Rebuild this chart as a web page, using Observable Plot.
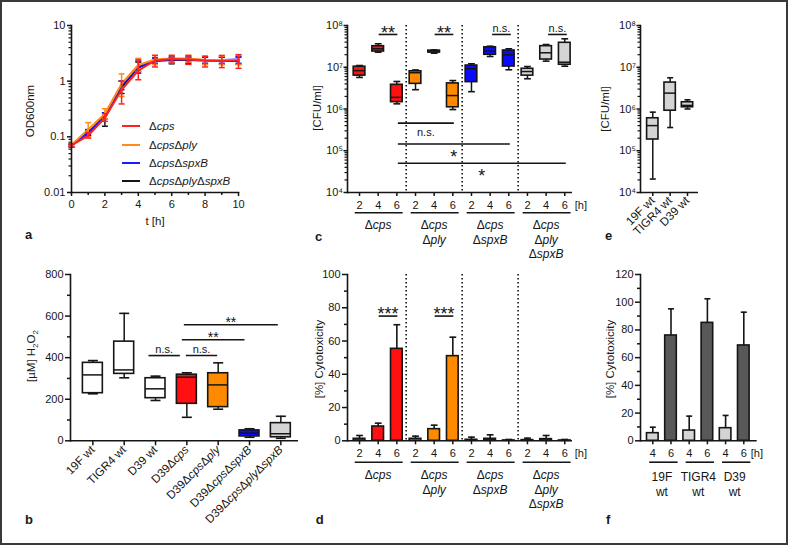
<!DOCTYPE html>
<html>
<head>
<meta charset="utf-8">
<script src="https://cdn.jsdelivr.net/npm/d3@7"></script>
<script src="https://cdn.jsdelivr.net/npm/@observablehq/plot@0.6"></script>
<style>
html,body{margin:0;padding:0;background:#fff;}
#fig{position:relative;width:788px;height:545px;overflow:hidden;background:#fff;font-family:"Liberation Sans",Arial,Helvetica,sans-serif;color:#1a1a1a;}
.panel{position:absolute;}
.panel svg{display:block;overflow:visible;}
.ylab{position:absolute;font-size:11.5px;line-height:1;white-space:nowrap;transform:translate(-50%,-50%) rotate(-90deg);}
.xlab{position:absolute;font-size:11.5px;line-height:1;white-space:nowrap;transform:translate(-50%,-50%);}
.letter{position:absolute;font-size:13px;font-weight:bold;line-height:13px;}
.legline{position:absolute;height:2px;width:18px;}
.legtext{position:absolute;font-size:11.5px;line-height:14px;white-space:nowrap;}
#border{position:absolute;left:0;top:0;width:788px;height:545px;box-sizing:border-box;border:2px solid #3a3a3a;pointer-events:none;}
</style>
</head>
<body>
<div id="fig"></div>
<script>
// ---------- DATA ----------
// (a) growth curves, OD600nm
const hours = [0,1,2,3,4,5,6,7,8,9,10];
const odCps      = [0.070,0.105,0.22,0.70,1.55,2.35,2.50,2.45,2.35,2.30,2.35];
const odCpsLo    = [0.066,0.095,0.19,0.39,1.06,1.80,2.10,2.00,1.80,1.75,1.70];
const odCpsHi    = [0.075,0.120,0.26,1.00,2.42,2.90,2.90,2.90,2.80,2.90,3.00];
const odPly      = [0.072,0.135,0.26,0.90,1.95,2.45,2.55,2.55,2.40,2.40,2.40];
const odPlyLo    = [0.068,0.100,0.21,0.53,1.50,2.00,2.20,2.20,2.00,2.00,2.00];
const odPlyHi    = [0.076,0.180,0.32,1.35,2.57,2.90,2.90,2.90,2.80,2.80,2.90];
const odSpx      = [0.070,0.120,0.24,0.85,1.80,2.35,2.45,2.45,2.40,2.40,2.45];
const odSpxLo    = [0.066,0.110,0.21,0.70,1.50,2.10,2.20,2.20,2.10,2.10,2.10];
const odSpxHi    = [0.074,0.130,0.27,1.00,2.30,2.60,2.70,2.70,2.70,2.70,2.80];
const odPlySpx   = [0.070,0.120,0.22,0.78,1.75,2.30,2.40,2.40,2.35,2.30,2.30];
const odPlySpxLo = [0.066,0.105,0.155,0.60,1.40,2.00,2.05,2.05,2.00,2.00,2.00];
const odPlySpxHi = [0.074,0.135,0.27,1.00,2.20,2.60,2.70,2.70,2.70,2.70,2.70];
const growthNames = ["Δcps","ΔcpsΔply","ΔcpsΔspxB","ΔcpsΔplyΔspxB"];

// (b) H2O2 box plots
const h2o2Strains = ["19F wt","TIGR4 wt","D39 wt","D39Δcps","D39ΔcpsΔply","D39ΔcpsΔspxB","D39ΔcpsΔplyΔspxB"];
const h2o2Min = [226,303,194,113,152,17,12];
const h2o2Q1  = [229,322,205,178,162,21,17];
const h2o2Med = [317,341,250,306,269,37,34];
const h2o2Q3  = [375,477,301,318,325,50,85];
const h2o2Max = [386,613,311,327,375,58,118];
const h2o2Sig = [{a:2,b:3,y:410,label:"n.s."},{a:3,b:4,y:410,label:"n.s."},{a:3,b:5,y:486,label:"**"},{a:3,b:6,y:558,label:"**"}];

// (c) CFU/ml box plots, 4 strains x 3 time points
const mutStrains = ["Δcps","ΔcpsΔply","ΔcpsΔspxB","ΔcpsΔplyΔspxB"];
const mutLabels  = ["Δcps","Δcps\nΔply","Δcps\nΔspxB","Δcps\nΔply\nΔspxB"];
const mutHours   = ["2","4","6"];
const cfuMin = [5.7e6,2.29e7,1.33e6, 2.9e6,2.17e7,9.7e5, 2.6e6,1.81e7,8.7e6, 5.3e6,1.40e7,1.06e7];
const cfuQ1  = [6.3e6,2.38e7,1.46e6, 4.0e6,2.25e7,1.1e6, 4.4e6,1.99e7,1.04e7, 6.3e6,1.53e7,1.15e7];
const cfuMed = [8.3e6,2.77e7,1.9e6,  7.4e6,2.38e7,2.1e6, 9.2e6,2.42e7,1.99e7, 7.9e6,2.22e7,1.32e7];
const cfuQ3  = [1.03e7,3.19e7,3.8e6, 8.0e6,2.50e7,4.1e6, 1.1e7,3.0e7,2.52e7, 9.2e6,3.2e7,3.85e7];
const cfuMax = [1.10e7,3.65e7,4.56e6,8.6e6,2.60e7,4.8e6, 1.21e7,3.19e7,2.77e7,1.04e7,3.5e7,4.8e7];
const cfuSigTop = [{a:1,b:2,y:6.1e7,label:"**"},{a:4,b:5,y:6.1e7,label:"**"},{a:7,b:8,y:6.1e7,label:"n.s."},{a:10,b:11,y:6.1e7,label:"n.s."}];
const cfuSigBottom = [{a:2,b:5,y:4.6e5,label:"n.s."},{a:2,b:8,y:1.45e5,label:"*"},{a:2,b:11,y:5.0e4,label:"*"}];

// (d) cytotoxicity of mutants, mean and error
const cytoMean = [1.2,8.6,55.3, 1.2,7.0,50.9, 0.6,1.2,0.2, 0.4,1.0,0.2];
const cytoErr  = [2.0,2.0,14.5, 1.6,2.4,11.4, 1.6,2.4,0.6, 1.2,2.2,0.6];
const cytoSig  = [{a:1,b:2,y:75,label:"***"},{a:4,b:5,y:75,label:"***"}];

// (e) CFU/ml of wild types
const wtStrains = ["19F wt","TIGR4 wt","D39 wt"];
const wtMin = [2.1e4,3.6e5,1.0e6];
const wtQ1  = [1.86e5,9.1e5,1.1e6];
const wtMed = [4.0e5,2.4e6,1.22e6];
const wtQ3  = [6.0e5,4.3e6,1.45e6];
const wtMax = [8.4e5,5.6e6,1.66e6];

// (f) cytotoxicity of wild types
const wtGroups = ["19F","TIGR4","D39"];
const wtGroupLabels = ["19F\nwt","TIGR4\nwt","D39\nwt"];
const wtHours = ["4","6"];
const wtCytoMean = [5.5,76.0, 7.4,85.1, 9.1,68.8];
const wtCytoErr  = [4.3,19.2, 10.4,17.4, 9.2,24.0];

// ---------- STYLE ----------
const INK = "#151515";
const FONT = '"Liberation Sans", Arial, Helvetica, sans-serif';
const RED = "#ff1111", ORANGE = "#ff8a00", BLUE = "#0a0aff", LGRAY = "#d4d4d4", DGRAY = "#585858";
const strainFill = {"Δcps":RED,"ΔcpsΔply":ORANGE,"ΔcpsΔspxB":BLUE,"ΔcpsΔplyΔspxB":LGRAY};
const CAP = {draw(ctx, size){ const w = Math.sqrt(size/Math.PI); ctx.moveTo(-w,0); ctx.lineTo(w,0); }};
const SUP = {4:"⁴",5:"⁵",6:"⁶",7:"⁷",8:"⁸"};
const fmtPow = d => "10" + SUP[Math.round(Math.log10(d))];
function logMinor(lo, hi){ const out=[]; for(let e=Math.round(Math.log10(lo)); e<Math.round(Math.log10(hi)); e++){ for(let m=2;m<=9;m++) out.push(m*Math.pow(10,e)); } return out; }
function baseStyle(){ return {background:"transparent", fontFamily:FONT, fontSize:"11px", color:INK, overflow:"visible"}; }

const fig = document.getElementById("fig");
function place(svg, left, top){ const d=document.createElement("div"); d.className="panel"; d.style.left=left+"px"; d.style.top=top+"px"; d.appendChild(svg); fig.appendChild(d); styleDelta(svg); }
function styleDelta(root){
  const NS = "http://www.w3.org/2000/svg";
  root.querySelectorAll("text, tspan").forEach(el => {
    if (el.children.length) return;
    const s = el.textContent;
    if (!s.includes("Δ")) return;
    el.textContent = "";
    let after = false;
    for (const p of s.split(/(Δ)/)) {
      if (!p) continue;
      const t = document.createElementNS(NS, "tspan");
      t.textContent = p;
      if (p === "Δ") { after = true; t.setAttribute("font-style","normal"); }
      else t.setAttribute("font-style", after ? "italic" : "normal");
      el.appendChild(t);
    }
  });
}
function deltaHTML(s){
  let after=false, out="";
  for (const p of s.split(/(Δ)/)) { if(!p) continue; if(p==="Δ"){after=true; out+="Δ";} else out += after ? "<i>"+p+"</i>" : p; }
  return out;
}
function html(cls, text, left, top){ const d=document.createElement("div"); d.className=cls; d.innerHTML=text; d.style.left=left+"px"; d.style.top=top+"px"; fig.appendChild(d); return d; }

function boxMarks(rows, inset, capR){
  return [
    Plot.ruleX(rows, {x:"k", y1:"min", y2:"max", stroke:INK, strokeWidth:1.5}),
    Plot.barY(rows, {x:"k", y1:"q1", y2:"q3", fill:"fill", stroke:INK, strokeWidth:1.6, insetLeft:inset, insetRight:inset}),
    Plot.tickY(rows, {x:"k", y:"med", stroke:INK, strokeWidth:1.5, insetLeft:inset, insetRight:inset}),
    Plot.dot(rows, {x:"k", y:"min", symbol:CAP, r:capR, stroke:INK, strokeWidth:1.6, fill:"none"}),
    Plot.dot(rows, {x:"k", y:"max", symbol:CAP, r:capR, stroke:INK, strokeWidth:1.6, fill:"none"})
  ];
}
// star labels: glyph centre sits ~0.255em above the "middle" anchor
function sigMarks(list, cats, step, where, nudges, starSize = 18){
  const marks = [];
  list.forEach((s, j) => {
    const nd = nudges ? nudges[j] : 0;
    const star = s.label.includes("*");
    const centre = where === "above" ? (star ? -6 : -6.2) : (star ? 8.4 : 9);
    const dy = star ? centre + 0.255 * starSize : centre;
    marks.push(Plot.link([s], {x1: d => cats[d.a], x2: d => cats[d.b], y1:"y", y2:"y", stroke:INK, strokeWidth:1.6, dx: nd}));
    const mid = (s.a + s.b) / 2, i = Math.floor(mid);
    marks.push(Plot.text([s], {x: () => cats[i], y:"y", text:"label", dx:(mid - i) * step + nd, dy, lineAnchor:"middle", fontSize: star ? starSize : 11, fill:INK}));
  });
  return marks;
}

// ---------- PANEL a ----------
{
  const series = [
    {color:"#151515", v:odPlySpx, lo:odPlySpxLo, hi:odPlySpxHi},
    {color:"#1a1aff", v:odSpx, lo:odSpxLo, hi:odSpxHi},
    {color:"#ff8c1a", v:odPly, lo:odPlyLo, hi:odPlyHi},
    {color:"#ff2020", v:odCps, lo:odCpsLo, hi:odCpsHi}
  ];
  const marks = [];
  for (const s of series) {
    const rows = hours.map((t,i) => ({t, v:s.v[i], lo:s.lo[i], hi:s.hi[i]}));
    marks.push(
      Plot.ruleX(rows, {x:"t", y1:"lo", y2:"hi", stroke:s.color, strokeWidth:1.5}),
      Plot.dot(rows, {x:"t", y:"lo", symbol:CAP, r:3, stroke:s.color, strokeWidth:1.5, fill:"none"}),
      Plot.dot(rows, {x:"t", y:"hi", symbol:CAP, r:3, stroke:s.color, strokeWidth:1.5, fill:"none"}),
      Plot.line(rows, {x:"t", y:"v", stroke:s.color, strokeWidth:2})
    );
  }
  const svg = Plot.plot({
    width:270, height:260, marginLeft:71, marginRight:32, marginTop:25, marginBottom:68,
    x:{domain:[0,10], label:null}, y:{type:"log", domain:[0.01,10], label:null},
    style: baseStyle(),
    marks:[
      Plot.axisX({ticks:[0,2,4,6,8,10], tickSize:4, tickPadding:4, label:null, strokeWidth:1.5}),
      Plot.axisX({ticks:[1,3,5,7,9], tickSize:3, tickFormat:()=>"", label:null, strokeWidth:1.5}),
      Plot.axisY({ticks:[0.01,0.1,1,10], tickSize:4, tickPadding:2, tickFormat:d=>String(d), label:null, strokeWidth:1.5}),
      Plot.axisY({ticks:logMinor(0.01,10), tickSize:2.5, tickFormat:()=>"", label:null, strokeWidth:1.2}),
      ...marks,
      Plot.frame({anchor:"left", stroke:INK, strokeWidth:1.6}),
      Plot.frame({anchor:"bottom", stroke:INK, strokeWidth:1.6})
    ]
  });
  place(svg, 0, 0);
  const legColors = ["#ff2020","#ff8c1a","#1a1aff","#151515"];
  const legY = [126,145,163,181];
  growthNames.forEach((n,i) => {
    const l = html("legline","",122,legY[i]-1); l.style.background = legColors[i];
    html("legtext", deltaHTML(n), 149, legY[i]-7);
  });
  html("ylab","OD600nm",31,111);
  html("xlab","t [h]",155,222);
}

// ---------- PANEL b ----------
{
  const fills = ["#fff","#fff","#fff",RED,ORANGE,BLUE,LGRAY];
  const rows = h2o2Strains.map((k,i)=>({k, min:h2o2Min[i], q1:h2o2Q1[i], med:h2o2Med[i], q3:h2o2Q3[i], max:h2o2Max[i], fill:fills[i]}));
  const svg = Plot.plot({
    width:300, height:285, marginLeft:70, marginRight:2, marginTop:14, marginBottom:104.7,
    x:{type:"band", domain:h2o2Strains, range:[76.7,296], padding:0, round:false, label:null},
    y:{domain:[0,800], label:null},
    color:{type:"identity"},
    style: baseStyle(),
    marks:[
      Plot.axisY({ticks:[0,200,400,600,800], tickSize:5, tickPadding:2, label:null, strokeWidth:1.5}),
      Plot.axisY({ticks:[100,300,500,700], tickSize:3, tickFormat:()=>"", label:null, strokeWidth:1.5}),
      Plot.axisX({tickSize:5, tickPadding:2, tickRotate:-45, fontSize:11.7, label:null, strokeWidth:1.5}),
      ...boxMarks(rows, 5.7, 5),
      ...sigMarks(h2o2Sig, h2o2Strains, 31.33, "above", [-7,-1,-5,-3], 14),
      Plot.frame({anchor:"left", stroke:INK, strokeWidth:1.6}),
      Plot.ruleY([0], {stroke:INK, strokeWidth:1.6})
    ]
  });
  place(svg, 0, 260);
  html("ylab","[µM] H<sub style='font-size:8px'>2</sub>O<sub style='font-size:8px'>2</sub>",33,356);
}

// ---------- PANEL c ----------
const cats = mutStrains.flatMap(s => mutHours.map(h => s + "|" + h));
const STEP = (303.6 - 79.7) / 12;
const groupRows = mutStrains.map((s,g) => ({first:cats[g*3], last:cats[g*3+2], mid:cats[g*3+1], label:mutLabels[g]}));
{
  const rows = cats.map((k,i)=>({k, min:cfuMin[i], q1:cfuQ1[i], med:cfuMed[i], q3:cfuQ3[i], max:cfuMax[i], fill:strainFill[k.split("|")[0]]}));
  const svg = Plot.plot({
    width:330, height:270, marginLeft:77, marginRight:28, marginTop:25, marginBottom:78,
    x:{type:"band", domain:cats, range:[79.7,303.6], padding:0, round:false, label:null},
    y:{type:"log", domain:[1e4,1e8], label:null},
    color:{type:"identity"},
    style: baseStyle(),
    marks:[
      Plot.ruleX([2,5,8], {x:i=>cats[i], dx:STEP/2, stroke:INK, strokeWidth:1.6, strokeDasharray:"1.4,2.6"}),
      Plot.axisY({ticks:[1e4,1e5,1e6,1e7,1e8], tickSize:3.5, tickPadding:1, tickFormat:fmtPow, label:null, strokeWidth:1.5}),
      Plot.axisY({ticks:logMinor(1e4,1e8), tickSize:2.5, tickFormat:()=>"", label:null, strokeWidth:1.2}),
      Plot.axisX({tickSize:4, tickPadding:5, tickFormat:k=>k.split("|")[1], label:null, strokeWidth:1.5}),
      Plot.text(["[h]"], {x:()=>cats[11], y:()=>1e4, text:d=>d, dx:10, dy:9, textAnchor:"start", lineAnchor:"top", fill:INK}),
      Plot.ruleY(groupRows, {x1:"first", x2:"last", y:()=>1e4, dy:20.3, insetLeft:5, insetRight:3, stroke:INK, strokeWidth:1.6}),
      Plot.text(groupRows, {x:"mid", y:()=>1e4, text:"label", dy:26.5, lineAnchor:"top", lineHeight:1.2, fontSize:12, fontStyle:"italic", fill:INK}),
      ...boxMarks(rows, 3.5, 3.4),
      ...sigMarks(cfuSigTop, cats, STEP, "above", [0.5,0.5,2,2]),
      ...sigMarks(cfuSigBottom, cats, STEP, "below", [1,1,1]),
      Plot.frame({anchor:"left", stroke:INK, strokeWidth:1.6}),
      Plot.ruleY([1e4], {stroke:INK, strokeWidth:1.6})
    ]
  });
  place(svg, 270, 0);
  html("ylab","[CFU/ml]",318,108);
}

// ---------- PANEL d ----------
{
  const rows = cats.map((k,i)=>({k, mean:cytoMean[i], top:cytoMean[i]+cytoErr[i], fill:strainFill[k.split("|")[0]]}));
  const svg = Plot.plot({
    width:330, height:285, marginLeft:77, marginRight:28, marginTop:14, marginBottom:104.7,
    x:{type:"band", domain:cats, range:[79.7,303.6], padding:0, round:false, label:null},
    y:{domain:[0,100], label:null},
    color:{type:"identity"},
    style: baseStyle(),
    marks:[
      Plot.ruleX([2,5,8], {x:i=>cats[i], dx:STEP/2, stroke:INK, strokeWidth:1.6, strokeDasharray:"1.4,2.6"}),
      Plot.axisY({ticks:[0,20,40,60,80,100], tickSize:5, tickPadding:2, label:null, strokeWidth:1.5}),
      Plot.axisY({ticks:[10,30,50,70,90], tickSize:3, tickFormat:()=>"", label:null, strokeWidth:1.5}),
      Plot.axisX({tickSize:4, tickPadding:4.4, tickFormat:k=>k.split("|")[1], label:null, strokeWidth:1.5}),
      Plot.text(["[h]"], {x:()=>cats[11], y:()=>0, text:d=>d, dx:10, dy:8.4, textAnchor:"start", lineAnchor:"top", fill:INK}),
      Plot.ruleY(groupRows, {x1:"first", x2:"last", y:()=>0, dy:21.4, insetLeft:5, insetRight:3, stroke:INK, strokeWidth:1.6}),
      Plot.text(groupRows, {x:"mid", y:()=>0, text:"label", dy:28.2, lineAnchor:"top", lineHeight:1.2, fontSize:12, fontStyle:"italic", fill:INK}),
      Plot.ruleX(rows, {x:"k", y1:"mean", y2:"top", stroke:INK, strokeWidth:1.6}),
      Plot.barY(rows, {x:"k", y1:()=>0, y2:"mean", fill:"fill", stroke:INK, strokeWidth:1.6, insetLeft:3.5, insetRight:3.5}),
      Plot.dot(rows, {x:"k", y:"top", symbol:CAP, r:3.4, stroke:INK, strokeWidth:1.6, fill:"none"}),
      ...sigMarks(cytoSig, cats, STEP, "above", [0.5,0.5]),
      Plot.frame({anchor:"left", stroke:INK, strokeWidth:1.6}),
      Plot.ruleY([0], {stroke:INK, strokeWidth:1.6})
    ]
  });
  place(svg, 270, 260);
  html("ylab","[%] Cytotoxicity",320,359);
}

// ---------- PANEL e ----------
{
  const rows = wtStrains.map((k,i)=>({k, min:wtMin[i], q1:wtQ1[i], med:wtMed[i], q3:wtQ3[i], max:wtMax[i], fill:LGRAY}));
  const svg = Plot.plot({
    width:188, height:270, marginLeft:40, marginRight:90, marginTop:25, marginBottom:78,
    x:{type:"band", domain:wtStrains, range:[43.6,95.7], padding:0, round:false, label:null},
    y:{type:"log", domain:[1e4,1e8], label:null},
    color:{type:"identity"},
    style: baseStyle(),
    marks:[
      Plot.axisY({ticks:[1e4,1e5,1e6,1e7,1e8], tickSize:3.5, tickPadding:1, tickFormat:fmtPow, label:null, strokeWidth:1.5}),
      Plot.axisY({ticks:logMinor(1e4,1e8), tickSize:2.5, tickFormat:()=>"", label:null, strokeWidth:1.2}),
      Plot.axisX({tickSize:4, tickPadding:2, tickRotate:-45, fontSize:11.7, label:null, strokeWidth:1.5}),
      ...boxMarks(rows, 3, 3),
      Plot.frame({anchor:"left", stroke:INK, strokeWidth:1.6}),
      Plot.ruleY([1e4], {stroke:INK, strokeWidth:1.6})
    ]
  });
  place(svg, 600, 0);
  html("ylab","[CFU/ml]",605.5,109);
}

// ---------- PANEL f ----------
{
  const fcats = wtGroups.flatMap(g => wtHours.map(h => g + "|" + h));
  const fstep = (152.4 - 43.2) / 6;
  const rows = fcats.map((k,i)=>({k, mean:wtCytoMean[i], top:wtCytoMean[i]+wtCytoErr[i], fill: k.endsWith("|4") ? LGRAY : DGRAY}));
  const groups = wtGroups.map((g,i)=>({first:fcats[i*2], last:fcats[i*2+1], label:wtGroupLabels[i]}));
  const svg = Plot.plot({
    width:188, height:285, marginLeft:40, marginRight:31.3, marginTop:14, marginBottom:104.7,
    x:{type:"band", domain:fcats, range:[43.2,152.4], padding:0, round:false, label:null},
    y:{domain:[0,120], label:null},
    color:{type:"identity"},
    style: baseStyle(),
    marks:[
      Plot.axisY({ticks:[0,20,40,60,80,100,120], tickSize:5, tickPadding:2, label:null, strokeWidth:1.5}),
      Plot.axisY({ticks:[10,30,50,70,90,110], tickSize:3, tickFormat:()=>"", label:null, strokeWidth:1.5}),
      Plot.axisX({tickSize:4, tickPadding:4.4, tickFormat:k=>k.split("|")[1], label:null, strokeWidth:1.5}),
      Plot.text(["[h]"], {x:()=>fcats[5], y:()=>0, text:d=>d, dx:7, dy:8.4, textAnchor:"start", lineAnchor:"top", fill:INK}),
      Plot.ruleY(groups, {x1:"first", x2:"last", y:()=>0, dy:21.4, insetLeft:6, insetRight:2, stroke:INK, strokeWidth:1.6}),
      Plot.text(groups, {x:"first", y:()=>0, text:"label", dx:fstep/2, dy:29.7, lineAnchor:"top", lineHeight:1.25, fontSize:12, fill:INK}),
      Plot.ruleX(rows, {x:"k", y1:"mean", y2:"top", stroke:INK, strokeWidth:1.6}),
      Plot.barY(rows, {x:"k", y1:()=>0, y2:"mean", fill:"fill", stroke:INK, strokeWidth:1.6, insetLeft:3.3, insetRight:3.3}),
      Plot.dot(rows, {x:"k", y:"top", symbol:CAP, r:3, stroke:INK, strokeWidth:1.6, fill:"none"}),
      Plot.frame({anchor:"left", stroke:INK, strokeWidth:1.6}),
      Plot.ruleY([0], {stroke:INK, strokeWidth:1.6})
    ]
  });
  place(svg, 600, 260);
  html("ylab","[%] Cytotoxicity",611,359);
}

// panel letters
[["a",25,228],["b",25,513],["c",315,229.5],["d",315.7,512.5],["e",605,228.5],["f",606,512.5]].forEach(([t,x,y]) => html("letter", t, x, y));
const b = document.createElement("div"); b.id = "border"; fig.appendChild(b);
</script>
</body>
</html>
